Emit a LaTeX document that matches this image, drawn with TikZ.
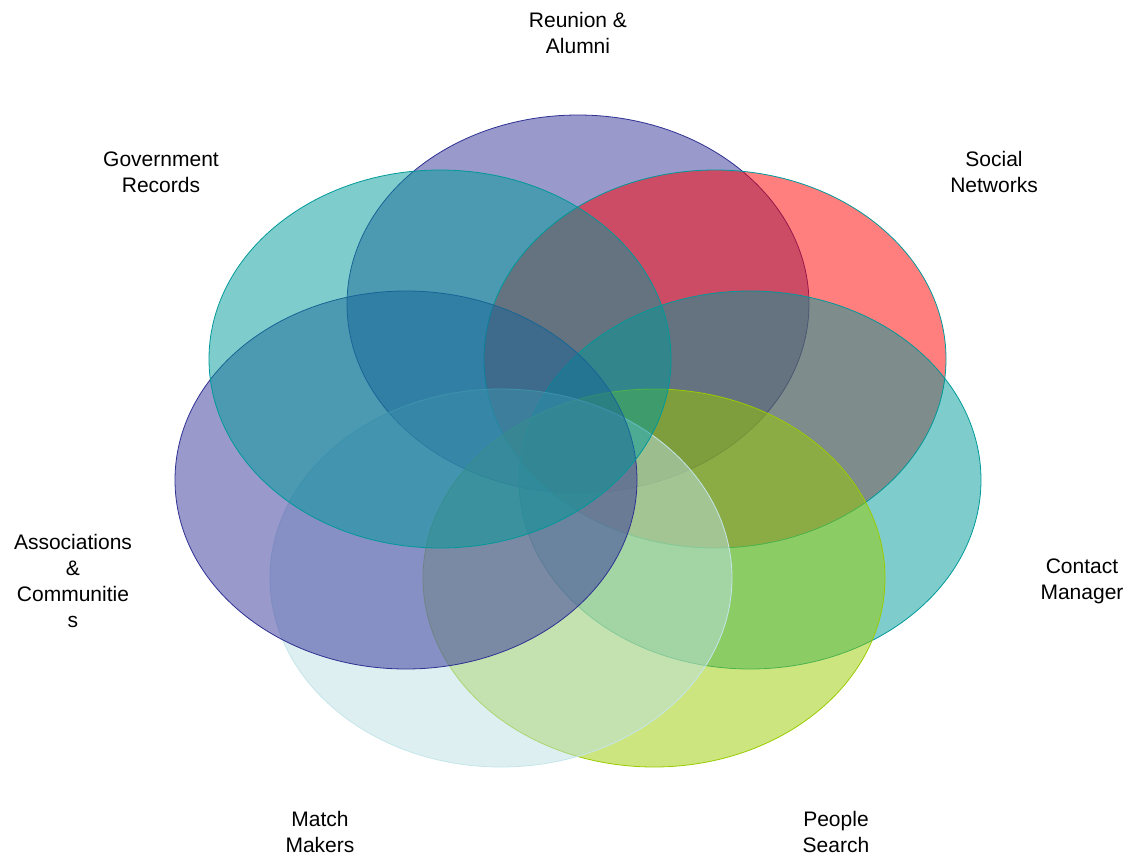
\documentclass[tikz,border=0pt]{standalone}
\usepackage{fontspec}
\setmainfont{Liberation Sans}
\definecolor{navy}{HTML}{333399}
\definecolor{navyline}{HTML}{2E3192}
\definecolor{tealc}{HTML}{009999}
\definecolor{redc}{HTML}{FF0000}
\definecolor{limec}{HTML}{99CC00}
\definecolor{palec}{HTML}{BBDFE2}
\definecolor{paleline}{HTML}{C4E6EA}
\tikzset{
  venn/.style={ellipse shape/.try, line width=0.8pt, fill opacity=0.5, draw opacity=1},
  lbl/.style={align=center, font=\fontsize{21}{26}\selectfont, inner sep=0pt}
}
\begin{document}
\begin{tikzpicture}[x=1pt,y=1pt]
\useasboundingbox (0,0) rectangle (1128,-855);
\def\rx{231}\def\ry{189}
% ellipses in drawing order
\path[venn, fill=navy, draw=navyline] (578,-304) ellipse [x radius=\rx, y radius=\ry];
\path[venn, fill=redc, draw=tealc] (715,-359) ellipse [x radius=\rx, y radius=\ry];
\path[venn, fill=tealc, draw=tealc] (750,-480) ellipse [x radius=\rx, y radius=\ry];
\path[venn, fill=limec, draw=limec] (654,-578) ellipse [x radius=\rx, y radius=\ry];
\path[venn, fill=palec, draw=paleline] (501,-578) ellipse [x radius=\rx, y radius=\ry];
\path[venn, fill=navy, draw=navyline] (406,-480) ellipse [x radius=\rx, y radius=\ry];
\path[venn, fill=tealc, draw=tealc] (440,-359) ellipse [x radius=\rx, y radius=\ry];
% labels
\node[lbl] (reunion) at (578,-33) {Reunion \&\\Alumni};
\node[lbl] (gov) at (161,-172) {Government\\Records};
\node[lbl] (social) at (994,-172) {Social\\Networks};
\node[lbl] (assoc) at (73,-581) {Associations\\\&\\Communitie\\s};
\node[lbl] (contact) at (1082,-581) {Contact\\Manager};
\node[lbl] (match) at (320,-832) {Match\\Makers};
\node[lbl] (people) at (836,-832) {People\\Search};
\end{tikzpicture}
\end{document}
